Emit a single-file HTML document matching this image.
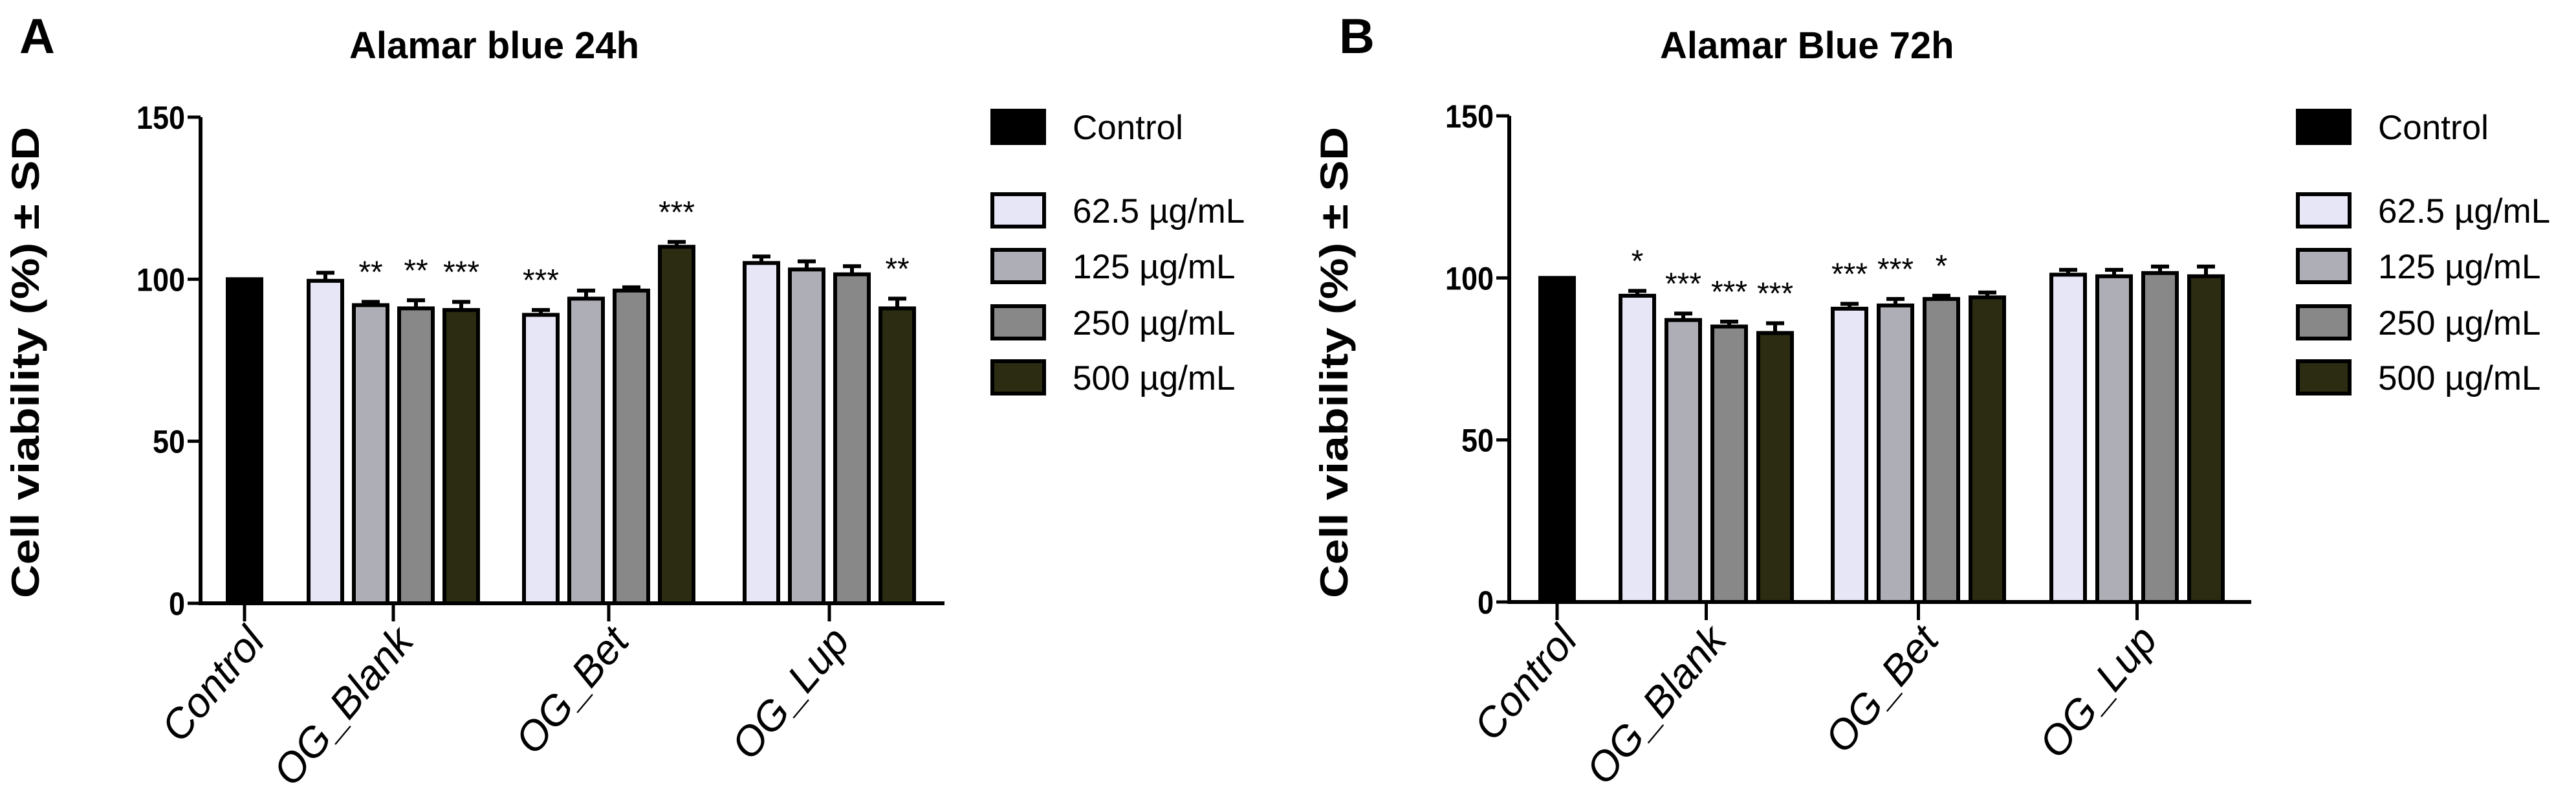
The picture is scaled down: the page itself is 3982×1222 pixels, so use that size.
<!DOCTYPE html>
<html><head><meta charset="utf-8"><style>
html,body{margin:0;padding:0;background:#fff}
svg{display:block}
text{font-family:"Liberation Sans",Arial,sans-serif}
</style></head><body>
<svg id="chart" width="3982" height="1222" viewBox="0 0 3982 1222" xmlns="http://www.w3.org/2000/svg"></svg>
<script>
const groups = ["Control","OG_Blank","OG_Bet","OG_Lup"];
const seriesNames = ["Control","62.5 µg/mL","125 µg/mL","250 µg/mL","500 µg/mL"];
const yTicks = [0,50,100,150];
const controlA = 100;
const blankA = [99.5,92,91,90.5];
const blankErrA = [2.5,1,2.5,2.5];
const betA = [89,94,96.5,110];
const betErrA = [1.5,2.5,1,1.5];
const lupA = [105,103,101.5,91];
const lupErrA = [2,2.5,2.5,3];
const starsA = [["","**","**","***"],["***","","","***"],["","","","**"]];
const controlB = 100;
const blankB = [94.5,87,85,83];
const blankErrB = [1.5,2,1.5,3];
const betB = [90.5,91.5,93.5,94];
const betErrB = [1.5,2,1,1.5];
const lupB = [101,100.5,101.5,100.5];
const lupErrB = [1.5,2,2,3];
const starsB = [["*","***","***","***"],["***","***","*",""],["","","",""]];

const NS="http://www.w3.org/2000/svg";
const svg=document.getElementById('chart');
function mk(tag,attrs,parent){const e=document.createElementNS(NS,tag);for(const k in attrs)e.setAttribute(k,attrs[k]);(parent||svg).appendChild(e);return e;}
const fills=["#000","#e6e6f6","#aeaeb6","#888888","#2c2c12"];

function panel(o){
  const g=mk('g',{});
  
  
  const y=v=>o.y0+(o.y150-o.y0)*v/150;
  let t=mk('text',{x:o.letterX,y:82,'font-size':76,'font-weight':'bold'},g);t.textContent=o.letter;
  
  t=mk('text',{x:o.titleX,y:90,'font-size':58,'font-weight':'bold'},g);t.textContent=o.title;
  
  t=mk('text',{x:0,y:0,'font-size':60,'font-weight':'bold','text-anchor':'middle',transform:`translate(${o.axX-250},560) rotate(-90)`,textLength:728,lengthAdjust:'spacingAndGlyphs'},g);
  t.textContent="Cell viability (%)  ± SD";
  
  let l=mk('line',{x1:o.axX,y1:y(150),x2:o.axX,y2:y(0)+3,stroke:'#000','stroke-width':6},g);
  
  l=mk('line',{x1:o.axX-3,y1:y(0),x2:o.axEnd,y2:y(0),stroke:'#000','stroke-width':6},g);
  
  yTicks.forEach(v=>{
    const tk=mk('line',{x1:o.axX-20,y1:y(v),x2:o.axX,y2:y(v),stroke:'#000','stroke-width':5},g);
    
    const tl=mk('text',{x:o.axX-24,y:y(v)+18,'font-size':50,'font-weight':'bold','text-anchor':'end',textLength:String(v).length*25,lengthAdjust:'spacingAndGlyphs'},g);
    tl.textContent=v;
    
  });
  const bw=52, step=o.step;
  function bar(x,v,err,ci,star){
    const r=mk('rect',{x:x,y:y(v),width:bw,height:y(0)-y(v),fill:fills[ci],stroke:'#000','stroke-width':6},g);
    
    if(err){
      const e=mk('path',{d:`M${x+bw/2} ${y(v)} V${y(v+err)} M${x+bw/2-14} ${y(v+err)} H${x+bw/2+14}`,stroke:'#000','stroke-width':6,fill:'none'},g);
      
    }
    if(star){
      const s=mk('text',{x:x+bw/2,y:y(v+err)-30,'font-size':48,'text-anchor':'middle'},g);
      s.textContent=star;
      
    }
  }
  bar(o.ctrlX,o.control,0,0,"");
  const sets=[[o.blank,o.blankErr],[o.bet,o.betErr],[o.lup,o.lupErr]];
  sets.forEach((s,gi)=>{
    s[0].forEach((v,i)=>bar(o.groupX[gi]+i*step,v,s[1][i],i+1,o.stars[gi][i]));
  });
  const tickXs=[o.ctrlX+bw/2].concat(o.groupX.map(gx=>gx+1.5*step+bw/2));
  groups.forEach((name,i)=>{
    const tx=tickXs[i];
    const tk=mk('line',{x1:tx,y1:y(0),x2:tx,y2:y(0)+28,stroke:'#000','stroke-width':5},g);
    
    const tl=mk('text',{x:0,y:0,'font-size':64,'font-style':'italic','text-anchor':'end',transform:`translate(${tx+34},${y(0)+60}) rotate(-50)`},g);
    tl.textContent=name;
    
  });
  const ly=[196,325,411,498,583];
  seriesNames.forEach((n,i)=>{
    const r=mk('rect',{x:o.legX,y:ly[i]-25,width:80,height:50,fill:fills[i],stroke:'#000','stroke-width':6},g);
    
    const tx=mk('text',{x:o.legX+124,y:ly[i]+19,'font-size':53},g);
    tx.textContent=n;
    
  });
}
panel({letter:'A',letterX:30,title:'Alamar blue 24h',titleX:540,axX:310,axEnd:1460,y0:932,y150:181,step:70,
  ctrlX:352,groupX:[477,810,1151],control:controlA,blank:blankA,blankErr:blankErrA,bet:betA,betErr:betErrA,lup:lupA,lupErr:lupErrA,stars:starsA,legX:1534});
panel({letter:'B',letterX:2070,title:'Alamar Blue 72h',titleX:2566,axX:2333,axEnd:3480,y0:930,y150:179,step:71,
  ctrlX:2381,groupX:[2505,2833,3171],control:controlB,blank:blankB,blankErr:blankErrB,bet:betB,betErr:betErrB,lup:lupB,lupErr:lupErrB,stars:starsB,legX:3552});
</script>
</body></html>
